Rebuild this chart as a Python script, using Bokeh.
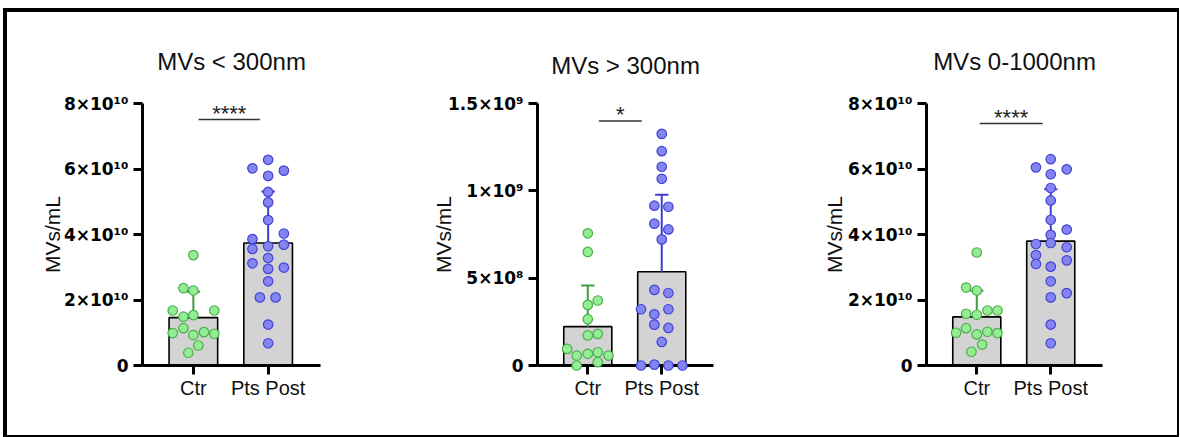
import numpy as np
from bokeh.plotting import figure
from bokeh.layouts import row
from bokeh.models import Range1d, FixedTicker, Title
from bokeh.core.properties import value
from bokeh.embed import file_html
from bokeh.resources import INLINE

# ---------------- data ----------------
categories = ["Ctr", "Pts Post"]
titles = ["MVs < 300nm", "MVs > 300nm", "MVs 0-1000nm"]
y_label = "MVs/mL"
significance = ["****", "*", "****"]

# Panel 1: MVs < 300nm
p1_ctr = [3.37e10, 2.36e10, 2.29e10, 1.68e10, 1.68e10, 1.49e10, 1.54e10, 1.14e10,
          0.99e10, 0.93e10, 1.02e10, 0.97e10, 0.61e10, 0.39e10]
p1_pts = [6.28e10, 6.02e10, 5.79e10, 5.95e10, 5.30e10, 4.98e10, 4.44e10, 4.03e10,
          3.86e10, 3.69e10, 3.56e10, 3.64e10, 3.28e10, 3.12e10, 2.95e10, 2.99e10,
          2.57e10, 2.08e10, 2.08e10, 1.25e10, 0.68e10]
# Panel 2: MVs > 300nm
p2_ctr = [7.57e8, 6.50e8, 3.72e8, 3.47e8, 2.65e8, 1.72e8, 1.81e8, 0.95e8,
          0.57e8, 0.67e8, 0.76e8, 0.57e8, 0.0, 0.19e8]
p2_pts = [13.26e8, 12.27e8, 11.38e8, 10.69e8, 9.15e8, 9.09e8, 8.12e8, 7.79e8,
          7.22e8, 4.33e8, 4.15e8, 3.22e8, 3.22e8, 2.93e8, 2.34e8, 2.15e8,
          1.35e8, 0.0, 0.05e8, 0.0, 0.0]
# Panel 3: MVs 0-1000nm
p3_ctr = [3.45e10, 2.38e10, 2.29e10, 1.68e10, 1.68e10, 1.58e10, 1.55e10, 1.14e10,
          1.00e10, 0.95e10, 1.03e10, 0.99e10, 0.64e10, 0.42e10]
p3_pts = [6.30e10, 6.05e10, 5.84e10, 5.99e10, 5.42e10, 5.04e10, 4.45e10, 3.99e10,
          3.71e10, 3.74e10, 4.15e10, 3.37e10, 3.61e10, 3.10e10, 3.02e10, 3.21e10,
          2.57e10, 2.08e10, 2.21e10, 1.25e10, 0.68e10]

# scatter (beeswarm) offsets within each category
p1_ctr_off = [0, -0.133, 0, -0.276, 0.28, -0.133, 0, -0.133, -0.276, 0, 0.142, 0.28, 0.067, -0.067]
p1_pts_off = [0, -0.21, 0, 0.21, 0, 0, 0, 0.21, -0.21, 0.21, -0.21, 0, 0, -0.21, 0, 0.21,
              0, -0.11, 0.10, 0, 0]
p2_ctr_off = [0, 0, 0.135, 0, 0, 0, 0.135, -0.28, -0.15, 0, 0.135, 0.28, -0.15, 0.135]
p2_pts_off = [0, 0, 0, 0, -0.10, 0.09, -0.10, 0.09, 0, -0.10, 0.09, -0.28, 0.09, -0.10,
              -0.10, 0.09, 0, -0.28, -0.10, 0.09, 0.28]
p3_ctr_off = [0, -0.144, 0, 0.144, 0.28, -0.144, 0, -0.144, -0.28, 0, 0.144, 0.28, 0.072, -0.072]
p3_pts_off = [0, -0.2, 0, 0.216, 0, 0, 0, 0, -0.2, 0, 0.216, -0.2, 0.216, -0.2, 0, 0.216,
              0, 0, 0.216, 0, 0]

# y axis ticks and labels
y_ticks_e10 = [0, 2e10, 4e10, 6e10, 8e10]
y_labels_e10 = ["0", "2×10¹⁰", "4×10¹⁰", "6×10¹⁰", "8×10¹⁰"]
y_ticks_e9 = [0, 5e8, 1e9, 1.5e9]
y_labels_e9 = ["0", "5×10⁸", "1×10⁹", "1.5×10⁹"]

# ---------------- styles ----------------
FONT = "Liberation Sans"
TICK_FONT = "DejaVu Sans"
CTR_FILL, CTR_LINE = "#93ee93", "#4cae4c"
PTS_FILL, PTS_LINE = "#8585f2", "#4343d6"
CTR_ERR, PTS_ERR = "#3f9f3f", "#3d3dd4"

panels = [
    dict(title=titles[0], ctr=p1_ctr, pts=p1_pts, ctr_off=p1_ctr_off, pts_off=p1_pts_off,
         ticks=y_ticks_e10, labels=y_labels_e10, top=8e10, sig=significance[0],
         sig_x=(0.07, 0.89), sig_y=7.51e10, width=388, bl=135, br=75, title_standoff=58,
         label_standoff=-3),
    dict(title=titles[1], ctr=p2_ctr, pts=p2_pts, ctr_off=p2_ctr_off, pts_off=p2_pts_off,
         ticks=y_ticks_e9, labels=y_labels_e9, top=1.5e9, sig=significance[1],
         sig_x=(0.15, 0.73), sig_y=1.40e9, width=390, bl=142, br=72, title_standoff=50,
         label_standoff=-10),
    dict(title=titles[2], ctr=p3_ctr, pts=p3_pts, ctr_off=p3_ctr_off, pts_off=p3_pts_off,
         ticks=y_ticks_e10, labels=y_labels_e10, top=8e10, sig=significance[2],
         sig_x=(0.04, 0.89), sig_y=7.39e10, width=392, bl=141, br=75, title_standoff=58,
         label_standoff=-1),
]

H = 423
BT = 91
FRAME_H = 262
BB = H - BT - FRAME_H


def make_panel(d):
    top = d["top"]
    p = figure(width=d["width"], height=H, output_backend="svg", toolbar_location=None,
               x_range=Range1d(-0.68, 1.70), y_range=Range1d(0, top),
               min_border_left=d["bl"], min_border_right=d["br"],
               min_border_top=BT, min_border_bottom=BB)
    p.title = Title(text=d["title"], align="center", text_font=FONT, text_font_size="24px",
                    text_font_style="normal", text_color="#111111",
                    standoff=d["title_standoff"])
    p.outline_line_color = None
    p.grid.visible = False
    p.background_fill_color = "white"
    p.border_fill_color = "white"

    xs = [0, 1]
    means = [float(np.mean(d["ctr"])), float(np.mean(d["pts"]))]
    sds = [float(np.std(d["ctr"], ddof=1)), float(np.std(d["pts"], ddof=1))]

    p.vbar(x=xs, top=means, bottom=0, width=0.65, fill_color="#d3d3d3",
           line_color="black", line_width=1.6)

    errc = [CTR_ERR, PTS_ERR]
    for i in range(2):
        p.segment(x0=[xs[i]], y0=[means[i]], x1=[xs[i]], y1=[means[i] + sds[i]],
                  line_color=errc[i], line_width=2)
        p.segment(x0=[xs[i] - 0.09], y0=[means[i] + sds[i]], x1=[xs[i] + 0.09],
                  y1=[means[i] + sds[i]], line_color=errc[i], line_width=2)

    cx = [0 + o for o in d["ctr_off"]]
    px = [1 + o for o in d["pts_off"]]
    r1 = p.scatter(x=cx, y=d["ctr"], size=9.5, fill_color=CTR_FILL, line_color=CTR_LINE,
                   line_width=1.2)
    r2 = p.scatter(x=px, y=d["pts"], size=9.5, fill_color=PTS_FILL, line_color=PTS_LINE,
                   line_width=1.2)
    r1.level = "overlay"
    r2.level = "overlay"

    # significance bar
    x0, x1 = d["sig_x"]
    p.segment(x0=[x0], y0=[d["sig_y"]], x1=[x1], y1=[d["sig_y"]], line_color="#333333",
              line_width=1.6)
    p.text(x=[(x0 + x1) / 2], y=[d["sig_y"]], text=[d["sig"]], text_align="center",
           text_baseline="alphabetic", text_font=value(FONT), text_font_size="22px",
           text_color="#222222", y_offset=-6)

    # axes
    xa = p.xaxis[0]
    xa.ticker = FixedTicker(ticks=xs)
    xa.major_label_overrides = {0: categories[0], 1: categories[1]}
    ya = p.yaxis[0]
    ya.ticker = FixedTicker(ticks=d["ticks"])
    ya.major_label_overrides = {t: l for t, l in zip(d["ticks"], d["labels"])}
    ya.axis_label = y_label
    for ax in (xa, ya):
        ax.axis_line_width = 3
        ax.axis_line_color = "black"
        ax.major_tick_line_width = 3
        ax.major_tick_line_color = "black"
        ax.major_tick_out = 9
        ax.major_tick_in = 0
        ax.minor_tick_line_color = None
    xa.major_label_text_font = FONT
    xa.major_label_text_font_size = "20px"
    xa.major_label_text_color = "#111111"
    xa.major_label_standoff = 2
    ya.major_label_text_font = TICK_FONT
    ya.major_label_text_font_size = "17px"
    ya.major_label_text_font_style = "bold"
    ya.major_label_text_color = "black"
    ya.major_label_standoff = 5
    ya.axis_label_text_font = FONT
    ya.axis_label_text_font_size = "21px"
    ya.axis_label_text_font_style = "normal"
    ya.axis_label_text_color = "#111111"
    ya.axis_label_standoff = d["label_standoff"]
    return p


figs = [make_panel(d) for d in panels]
layout = row(*figs, styles={"margin-left": "3px", "margin-top": "8px",
                            "border-top": "4px solid black", "border-left": "4px solid black",
                            "border-right": "2px solid black",
                            "border-bottom": "2px solid black"})

open("out.html", "w").write(file_html(layout, INLINE))
